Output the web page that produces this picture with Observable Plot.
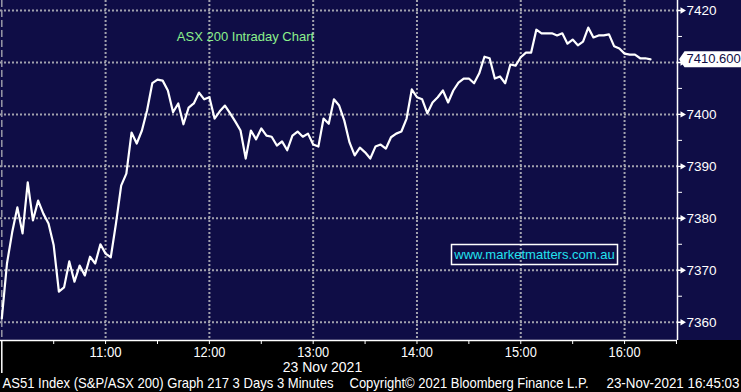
<!DOCTYPE html>
<html><head><meta charset="utf-8">
<script src="https://cdn.jsdelivr.net/npm/d3@7"></script>
<script src="https://cdn.jsdelivr.net/npm/@observablehq/plot@0.6"></script>
<style>
html,body{margin:0;padding:0;background:#000;}
#chart{width:741px;height:392px;overflow:hidden;}
</style></head><body><div id="chart"></div>
<script>
// ---- data ----
const startTime = "10:00";
const barMinutes = 3;
const closes = [
 7360.7, 7371.3, 7377.3, 7382.1, 7377.1, 7386.9, 7379.6, 7383.4, 7380.9, 7379.0,
 7374.8, 7365.9, 7366.7, 7371.7, 7367.8, 7370.9, 7369.0, 7372.6, 7371.3, 7375.0,
 7373.2, 7372.5, 7379.0, 7386.3, 7388.6, 7396.5, 7394.4, 7396.9, 7400.8, 7406.0,
 7406.7, 7406.5, 7404.6, 7400.4, 7402.1, 7398.1, 7401.3, 7402.1, 7404.2, 7402.9,
 7403.3, 7399.2, 7400.6, 7401.7, 7400.2, 7398.6, 7396.9, 7391.5, 7396.9, 7395.2,
 7397.3, 7395.9, 7395.7, 7394.0, 7394.8, 7393.1, 7395.9, 7396.7, 7395.7, 7396.3,
 7394.2, 7393.8, 7399.2, 7398.2, 7402.9, 7401.7, 7398.8, 7394.6, 7392.1, 7393.6,
 7392.7, 7391.5, 7393.8, 7394.2, 7393.4, 7395.6, 7396.3, 7396.7, 7399.2, 7404.8,
 7403.3, 7402.9, 7400.2, 7402.3, 7403.3, 7404.6, 7402.3, 7404.6, 7406.1, 7406.9,
 7406.9, 7406.0, 7407.9, 7411.1, 7410.8, 7406.9, 7407.3, 7406.0, 7409.6, 7409.4,
 7411.0, 7411.9, 7411.9, 7416.3, 7415.6, 7415.6, 7415.6, 7415.2, 7415.6, 7413.6,
 7414.4, 7413.3, 7414.0, 7416.7, 7414.8, 7415.2, 7415.2, 7415.4, 7413.1, 7412.7,
 7411.7, 7411.5, 7411.5, 7410.8, 7410.8, 7410.6
];
const timeTicks = ["10:30","11:00","11:30","12:00","12:30","13:00","13:30","14:00","14:30","15:00","15:30","16:00","16:30"];
const hourTicks = ["11:00","12:00","13:00","14:00","15:00","16:00"];
const sessionStart = ["10:00"];
const priceTicks = [7360, 7370, 7380, 7390, 7400, 7410, 7420];
const minorPriceTicks = [7365, 7375, 7385, 7395, 7405, 7415];
const lastValue = 7410.600;
const titleText = "ASX 200 Intraday Chart";
const watermark = "www.marketmatters.com.au";
const dateLabel = "23 Nov 2021";
const footerLeft = "AS51 Index (S&P/ASX 200) Graph 217 3 Days 3 Minutes";
const footerMid = "Copyright\u00a9 2021 Bloomberg Finance L.P.";
const footerRight = "23-Nov-2021 16:45:03";

// ---- helpers ----
const toMin = s => +s.slice(0, 2) * 60 + +s.slice(3);
const fmtMin = m => String(Math.floor(m / 60)).padStart(2, "0") + ":" + String(m % 60).padStart(2, "0");
const data = closes.map((v, i) => ({t: toMin(startTime) + i * barMinutes, v}));
const hourSet = new Set(hourTicks.map(toMin));

const xDomain = [599.25, 990.6];
const yDomain = [7356.48, 7421.92];

const navy = "#0f0d46";
const gridColor = "#a2a2ae";
const arial = "'Liberation Sans',Arial,sans-serif";

const arrowSymbol = {draw(ctx) {
  ctx.moveTo(0, -0.7); ctx.lineTo(3, -0.7); ctx.lineTo(3, -3.2);
  ctx.lineTo(8.5, 0); ctx.lineTo(3, 3.2); ctx.lineTo(3, 0.7); ctx.lineTo(0, 0.7); ctx.closePath();
}};
const calloutSymbol = {draw(ctx) {
  ctx.moveTo(1.5, 0); ctx.lineTo(7, -8); ctx.lineTo(80, -8); ctx.lineTo(80, 8); ctx.lineTo(7, 8); ctx.closePath();
}};
const boxSymbol = {draw(ctx) { ctx.rect(-83, -10, 166, 20); }};

const chart = Plot.plot({
  width: 741, height: 392,
  marginLeft: 0, marginRight: 64, marginTop: 0, marginBottom: 52,
  style: {background: `linear-gradient(${navy} 0 340px, #000 340px)`, color: "white", fontFamily: arial},
  x: {type: "linear", domain: xDomain, label: null},
  y: {type: "linear", domain: yDomain, label: null},
  marks: [
    Plot.gridY(priceTicks, {stroke: gridColor, strokeOpacity: 1, strokeWidth: 2, strokeDasharray: "2,2"}),
    Plot.gridX(hourTicks.map(toMin), {stroke: gridColor, strokeOpacity: 1, strokeWidth: 2, strokeDasharray: "2,2"}),
    Plot.ruleX(sessionStart.map(toMin), {stroke: "#9a9aa8", strokeWidth: 1.5, strokeDasharray: "7,3"}),
    Plot.text([titleText], {frameAnchor: "top-left", dx: 245, dy: 36, textAnchor: "middle", lineAnchor: "middle", fill: "#8cf08c", fontSize: 13, fontFamily: arial}),
    Plot.dot([watermark], {frameAnchor: "top-left", dx: 534, dy: 254, symbol: boxSymbol, r: 1, fill: "none", stroke: "white", strokeWidth: 1.5}),
    Plot.text([watermark], {frameAnchor: "top-left", dx: 534, dy: 254, textAnchor: "middle", lineAnchor: "middle", fill: "#22e2f0", fontSize: 13, fontFamily: arial}),
    Plot.line(data, {x: "t", y: "v", stroke: "white", strokeWidth: 2.2}),
    // axes frame lines
    Plot.ruleY([yDomain[0]], {stroke: "white", strokeWidth: 1.5}),
    Plot.ruleX([xDomain[1]], {stroke: "white", strokeWidth: 1.5}),
    // right axis
    Plot.axisY(minorPriceTicks, {anchor: "right", tickSize: 4, tickFormat: () => "", stroke: "white", label: null}),
    Plot.dot(priceTicks, {y: d => d, frameAnchor: "right", symbol: arrowSymbol, r: 1, fill: "white", stroke: "none"}),
    Plot.axisY(priceTicks, {anchor: "right", tickSize: 0, tickPadding: 9, fontSize: 13.5, fill: "white", fontFamily: arial,
      tickFormat: d => String(d), label: null}),
    // bottom axis
    Plot.axisX(timeTicks.map(toMin), {anchor: "bottom", tickSize: 4, tickPadding: 2, stroke: "white", fill: "white",
      fontSize: 15, fontFamily: arial, tickFormat: m => hourSet.has(m) ? fmtMin(m) : "", label: null}),
    Plot.axisX(sessionStart.map(toMin), {anchor: "bottom", tickSize: 33, tickFormat: () => "", stroke: "white", strokeWidth: 1.5, label: null}),
    // last value callout
    Plot.dot([lastValue], {y: d => d, frameAnchor: "right", symbol: calloutSymbol, r: 1, fill: "white", stroke: "none"}),
    Plot.text([lastValue], {y: d => d, frameAnchor: "right", text: d => d.toFixed(3), dx: 9, textAnchor: "start", fill: navy, fontSize: 13, fontFamily: arial}),
    // date + footer
    Plot.text([dateLabel], {frameAnchor: "bottom-left", dx: 322, dy: 27, textAnchor: "middle", lineAnchor: "middle", fill: "white", fontSize: 14, fontFamily: arial}),
    Plot.text([footerLeft], {frameAnchor: "bottom-left", dx: 2, dy: 43, textAnchor: "start", lineAnchor: "middle", fill: "white", fontSize: 14.5, fontFamily: arial}),
    Plot.text([footerMid], {frameAnchor: "bottom-left", dx: 349, dy: 43, textAnchor: "start", lineAnchor: "middle", fill: "white", fontSize: 14.5, fontFamily: arial}),
    Plot.text([footerRight], {frameAnchor: "bottom-left", dx: 739, dy: 43, textAnchor: "end", lineAnchor: "middle", fill: "white", fontSize: 14.5, fontFamily: arial})
  ]
});
document.getElementById("chart").append(chart);

// fit condensed Bloomberg strings to the reference widths
const fitWidths = new Map([[footerLeft, 331], [footerMid, 239], [footerRight, 133]]);
d3.select(chart).selectAll("text").each(function() {
  const w = fitWidths.get(this.textContent);
  if (w) d3.select(this).attr("textLength", w).attr("lengthAdjust", "spacingAndGlyphs");
});
d3.select(chart).selectAll("text").filter(function() { return hourSet.has(toMin(this.textContent || "xx:xx")); })
  .attr("textLength", 32).attr("lengthAdjust", "spacingAndGlyphs");
</script></body></html>
